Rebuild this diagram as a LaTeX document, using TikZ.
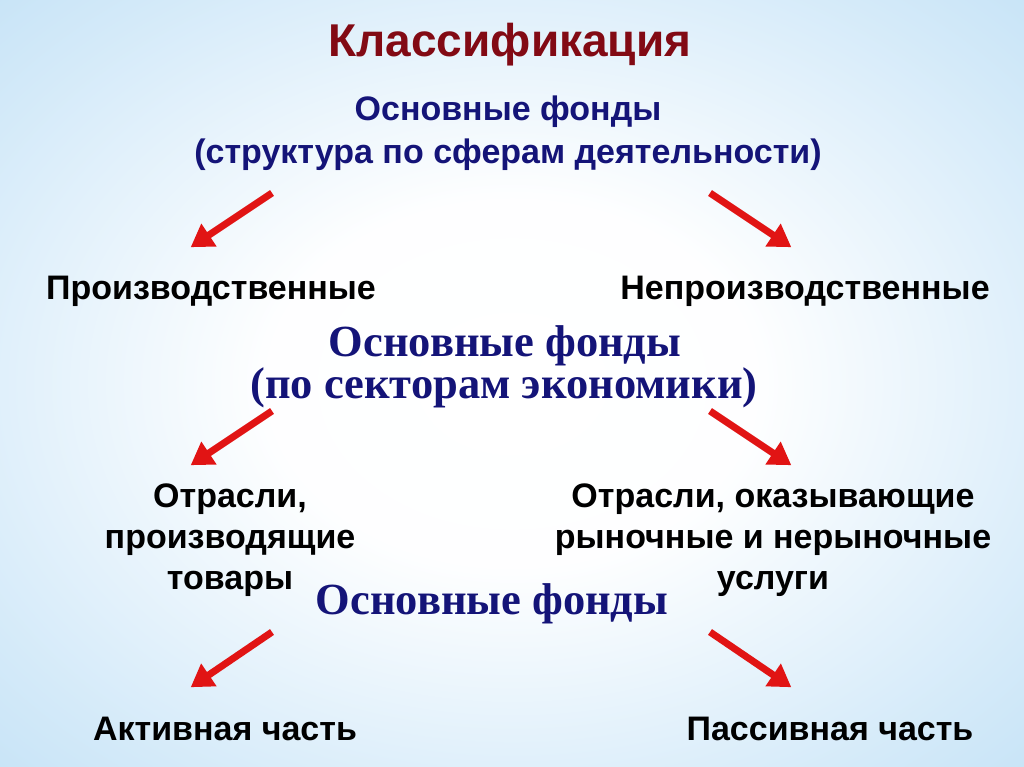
\documentclass[tikz,border=0pt]{standalone}
\usepackage{fontspec}
\setmainfont{Liberation Sans}
\newfontfamily\serifbold{Liberation Serif}
\usetikzlibrary{arrows.meta}
\definecolor{titlered}{RGB}{130,10,20}
\definecolor{navyblue}{RGB}{20,20,120}
\definecolor{arrowred}{RGB}{225,20,20}
\definecolor{bgouter}{RGB}{160,208,240}
\definecolor{bgmid}{RGB}{212,234,249}
\pgfdeclareradialshading{bgshade}{\pgfpoint{0bp}{0bp}}{%
  color(0bp)=(white); color(12bp)=(white!97!bgmid); color(30bp)=(bgmid); color(55bp)=(bgouter); color(70bp)=(bgouter)}
\tikzset{
  titletext/.style={anchor=base, inner sep=0pt, text=titlered, font=\fontsize{46}{52}\selectfont\bfseries},
  bluesans/.style={anchor=base, inner sep=0pt, text=navyblue, font=\fontsize{34}{40}\selectfont\bfseries},
  blueserif/.style={anchor=base, inner sep=0pt, text=navyblue, font=\serifbold\fontsize{44.5}{50}\selectfont\bfseries},
  blacktext/.style={anchor=base, inner sep=0pt, text=black, font=\fontsize{34}{40}\selectfont\bfseries},
  redarrow/.style={draw=arrowred, line width=7pt, -{Triangle[length=22pt,width=26pt]}, shorten >=-4pt},
}
\begin{document}
\begin{tikzpicture}[x=1pt,y=-1pt]
\useasboundingbox (0,0) rectangle (1024,767);
\shade[shading=bgshade] (0,0) rectangle (1024,767);

% titles
\node[titletext] (title) at (510,57) {Классификация};
\node[bluesans] (h1a) at (508,121) {Основные фонды};
\node[bluesans] (h1b) at (508,164) {(структура по сферам деятельности)};

\node[blacktext] (p1l) at (211,299) {Производственные};
\node[blacktext] (p1r) at (805,299) {Непроизводственные};

\node[blueserif] (h2a) at (505,356) {Основные фонды};
\node[blueserif] (h2b) at (504,398) {(по секторам экономики)};

\node[blacktext] (p2la) at (230,507) {Отрасли,};
\node[blacktext] (p2lb) at (230,548) {производящие};
\node[blacktext] (p2lc) at (230,589) {товары};
\node[blacktext] (p2ra) at (773,507) {Отрасли, оказывающие};
\node[blacktext] (p2rb) at (773,548) {рыночные и нерыночные};
\node[blacktext] (p2rc) at (773,589) {услуги};

\node[blueserif] (h3) at (492,614) {Основные фонды};

\node[blacktext] (p3l) at (225,740) {Активная часть};
\node[blacktext] (p3r) at (830,740) {Пассивная часть};

% arrow end points
\coordinate (a1ls) at (272,193); \coordinate (a1le) at (194,245);
\coordinate (a1rs) at (710,193); \coordinate (a1re) at (788,245);
\coordinate (a2ls) at (272,411); \coordinate (a2le) at (194,463);
\coordinate (a2rs) at (710,411); \coordinate (a2re) at (788,463);
\coordinate (a3ls) at (272,632); \coordinate (a3le) at (194,685);
\coordinate (a3rs) at (710,632); \coordinate (a3re) at (788,685);

\foreach \s/\e in {a1ls/a1le,a1rs/a1re,a2ls/a2le,a2rs/a2re,a3ls/a3le,a3rs/a3re}{
  \draw[redarrow] (\s) -- (\e);
}
\end{tikzpicture}
\end{document}
